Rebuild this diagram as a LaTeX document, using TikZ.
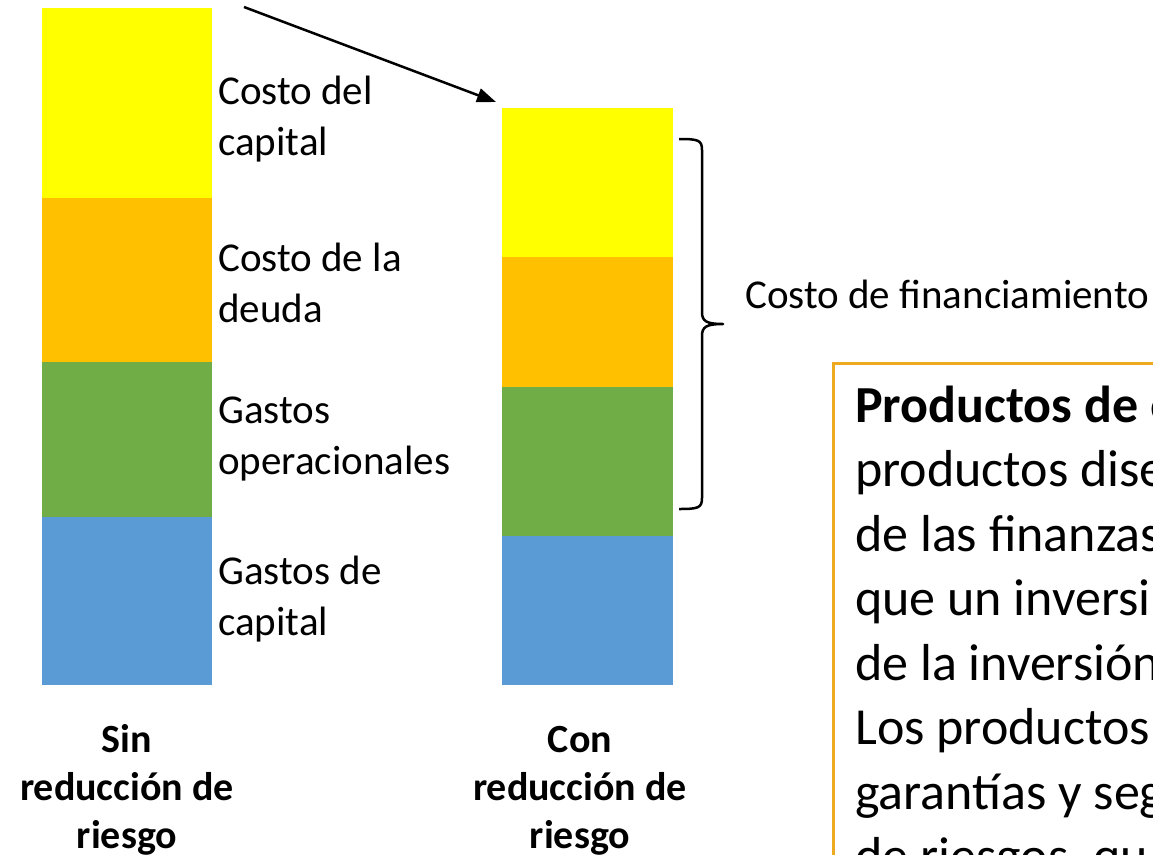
\documentclass[tikz,border=0pt]{standalone}
\usepackage{fontspec}
\setmainfont{Carlito}
\usetikzlibrary{arrows.meta}

\definecolor{capyellow}{RGB}{255,255,0}
\definecolor{debtorange}{RGB}{255,192,0}
\definecolor{opgreen}{RGB}{112,173,71}
\definecolor{capexblue}{RGB}{91,155,213}
\definecolor{boxgold}{RGB}{237,170,32}

\tikzset{
	lbl/.style={anchor=base west,inner sep=0pt,align=left,font=\fontsize{41}{50.5}\selectfont},
	barcaption/.style={anchor=base,inner sep=0pt,align=center,font=\bfseries\fontsize{40}{48}\selectfont},
	boxtxt/.style={anchor=base west,inner sep=0pt,align=left,font=\fontsize{52}{64.5}\selectfont},
}

\begin{document}
\begin{tikzpicture}[x=1pt,y=-1pt]
	
	\useasboundingbox (0,0) rectangle (1153,854);
	\clip (0,0) rectangle (1153,854);
	
	% sin reduccion de riesgo
	\fill[capyellow] (42,8) rectangle (212,198);
	\fill[debtorange] (42,198) rectangle (212,362);
	\fill[opgreen] (42,362) rectangle (212,517);
	\fill[capexblue] (42,517) rectangle (212,685);
	
	% (base = last line)
	\node[lbl] (costcap) at (218,155) {Costo del\\capital};
	\node[lbl] (costdebt) at (218,322) {Costo de la\\deuda};
	\node[lbl] (opex) at (218,474) {Gastos\\operacionales};
	\node[lbl] (capex) at (218,635) {Gastos de\\capital};
	
	\node[barcaption] (sinlbl) at (127,848) {Sin\\reducción de\\riesgo};
	
	% con reduccion de riesgo
	\fill[capyellow] (502,108) rectangle (673,257);
	\fill[debtorange] (502,257) rectangle (673,387);
	\fill[opgreen] (502,387) rectangle (673,536);
	\fill[capexblue] (502,536) rectangle (673,685);
	
	\node[barcaption] (conlbl) at (580,848) {Con\\reducción de\\riesgo};
	
	\coordinate (arrowstart) at (244,7);
	\coordinate (arrowend) at (496,102);
	\draw[line width=2.5pt,-{Triangle[length=19pt,width=14pt]}] (arrowstart) -- (arrowend);
	
	% llave
	\coordinate (bracetop) at (679,139);
	\coordinate (bracetip) at (723,324);
	\coordinate (bracebot) at (679,509);
	\draw[line width=2.5pt,line join=round] (bracetop) .. controls (698,139) and (702,140) .. (702,150)
		-- (702,312) .. controls (702,321) and (706,324) .. (bracetip)
		.. controls (706,324) and (702,327) .. (702,336)
		-- (702,498) .. controls (702,508) and (698,509) .. (bracebot);
	\node[lbl] (finance) at (745,308) {Costo de financiamiento};
	
	% recuadro
	\draw[boxgold,line width=3pt] (833,363) rectangle (1170,880);
	\node[boxtxt] (boxtext) at (855,873.5) {\textbf{Productos de e}\\productos dise\\de las finanzas\\que un inversi\\de la inversión\\Los productos\\garantías y seg\\de riesgos, qu};
	
\end{tikzpicture}
\end{document}
